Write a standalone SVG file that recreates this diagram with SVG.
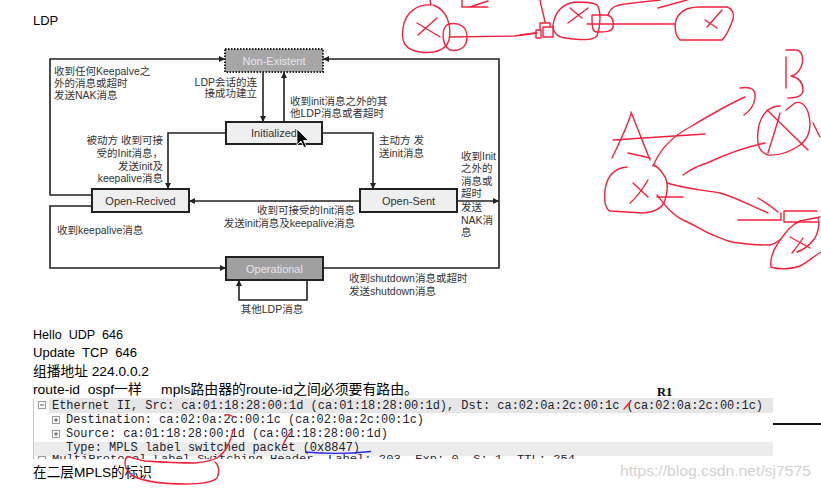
<svg xmlns="http://www.w3.org/2000/svg" width="821" height="490" viewBox="0 0 821 490">
<defs>
<style>
.lb{font-family:'Liberation Sans','Noto Sans CJK SC',sans-serif;font-size:10.5px;fill:#333}
.r{text-anchor:end}
.bx{fill:#efefef;stroke:#222;stroke-width:2}
.bt{font-family:'Liberation Sans','Noto Sans CJK SC',sans-serif;font-size:11px;fill:#333;text-anchor:middle}
.lt{fill:#e6e6e6}
.ln{fill:none;stroke:#222;stroke-width:1.6}
.doc{font-family:'Liberation Sans','Noto Sans CJK SC',sans-serif;font-size:13.5px;fill:#000;white-space:pre}
.mono{font-family:'Liberation Mono','DejaVu Sans Mono',monospace;font-size:12px;fill:#1e1e30;white-space:pre}
.ic{fill:#fff;stroke:#9a9a9a;stroke-width:1}
.red{fill:none;stroke:#f8203c;stroke-width:1.4;stroke-linecap:round;stroke-linejoin:round}
</style>
<marker id="ah" viewBox="0 0 6 6" refX="6" refY="3" markerWidth="6" markerHeight="6" markerUnits="userSpaceOnUse" orient="auto">
<path d="M0,0 L6,3 L0,6 Z" fill="#222"/>
</marker>
<clipPath id="cp"><rect x="0" y="440" width="821" height="19"/></clipPath>
</defs>
<rect width="821" height="490" fill="#fff"/>
<text x="33" y="25" class="doc" style="font-size:13px">LDP</text>

<g id="connectors">
<path class="ln" d="M92,195 H50 V59 H225" marker-end="url(#ah)"/>
<path class="ln" d="M263,72 V122" marker-end="url(#ah)"/>
<path class="ln" d="M284,122 V72" marker-end="url(#ah)"/>
<path class="ln" d="M226,133 H168 V189" marker-end="url(#ah)"/>
<path class="ln" d="M322,133 H373 V189" marker-end="url(#ah)"/>
<path class="ln" d="M360,201 H189" marker-end="url(#ah)"/>
<path class="ln" d="M457,201 H499" marker-end="url(#ah)"/>
<path class="ln" d="M323,268 H499 V59 H323" marker-end="url(#ah)"/>
<path class="ln" d="M92,206 H50 V268 H226" marker-end="url(#ah)"/>
<path class="ln" d="M307,280 V300 H239 V280" marker-end="url(#ah)"/>
</g>

<g id="edge-labels">
<text class="lb" x="54" y="75">收到任何Keepalve之</text>
<text class="lb" x="54" y="87">外的消息或超时</text>
<text class="lb" x="54" y="99">发送NAK消息</text>
<text class="lb r" x="257" y="86">LDP会话的连</text>
<text class="lb r" x="257" y="97">接成功建立</text>
<text class="lb" x="290" y="105">收到init消息之外的其</text>
<text class="lb" x="290" y="117">他LDP消息或者超时</text>
<text class="lb r" x="163" y="144">被动方 收到可接</text>
<text class="lb r" x="163" y="157">受的Init消息，</text>
<text class="lb r" x="163" y="170">发送init及</text>
<text class="lb r" x="163" y="182">keepalive消息</text>
<text class="lb" x="379" y="144">主动方 发</text>
<text class="lb" x="379" y="157">送init消息</text>
<text class="lb" x="461" y="160">收到Init</text>
<text class="lb" x="461" y="172">之外的</text>
<text class="lb" x="461" y="185">消息或</text>
<text class="lb" x="461" y="197">超时</text>
<text class="lb" x="461" y="211">发送</text>
<text class="lb" x="461" y="224">NAK消</text>
<text class="lb" x="461" y="236">息</text>
<text class="lb r" x="355" y="214">收到可接受的Init消息</text>
<text class="lb r" x="355" y="227">发送init消息及keepalive消息</text>
<text class="lb" x="57" y="234">收到keepalive消息</text>
<text class="lb" x="349" y="282">收到shutdown消息或超时</text>
<text class="lb" x="349" y="295">发送shutdown消息</text>
<text class="lb" x="272" y="313" text-anchor="middle">其他LDP消息</text>
</g>

<g id="node-nonexistent">
<rect x="225" y="49" width="98" height="23" fill="#a6a6a6" stroke="#222" stroke-width="2" stroke-dasharray="1.5 1.5"/>
<text class="bt lt" x="274" y="64.5">Non-Existent</text>
</g>
<g id="node-initialized">
<rect class="bx" x="226" y="122" width="96" height="22"/>
<text class="bt" x="274" y="137">Initialized</text>
<path d="M297,129 L297,145 L301,141 L304,147.5 L306.5,146.5 L303.5,140.5 L308.5,140.5 Z" fill="#000" stroke="#fff" stroke-width="0.8"/>
</g>
<g id="node-openrecived">
<rect class="bx" x="92" y="189" width="97" height="23"/>
<text class="bt" x="140.5" y="204.5">Open-Recived</text>
</g>
<g id="node-opensent">
<rect class="bx" x="360" y="189" width="97" height="23"/>
<text class="bt" x="408.5" y="204.5">Open-Sent</text>
</g>
<g id="node-operational">
<rect x="226" y="257" width="97" height="23" fill="#a0a0a0" stroke="#222" stroke-width="2"/>
<text class="bt lt" x="274.5" y="272.5">Operational</text>
</g>

<g id="notes">
<text class="doc" x="33" y="339" textLength="90" lengthAdjust="spacingAndGlyphs">Hello  UDP  646</text>
<text class="doc" x="33" y="357" textLength="104" lengthAdjust="spacingAndGlyphs">Update  TCP  646</text>
<text class="doc" x="33" y="376" textLength="116" lengthAdjust="spacingAndGlyphs">组播地址 224.0.0.2</text>
<text class="doc" x="33" y="394" textLength="385" lengthAdjust="spacingAndGlyphs">route-id  ospf一样     mpls路由器的route-id之间必须要有路由。</text>
<text x="657" y="396" style="font-family:'Liberation Serif',serif;font-size:12.5px;font-weight:bold;fill:#000">R1</text>
<line x1="773" y1="424" x2="821" y2="424" stroke="#111" stroke-width="2"/>
</g>

<g id="packet">
<line x1="33.5" y1="399" x2="33.5" y2="459" stroke="#c8c8c8" stroke-width="1"/>
<rect x="49" y="398" width="724" height="15" fill="#e6e6e6"/>
<rect x="34" y="442" width="739" height="14" fill="#ececec"/>
<rect class="ic" x="38.5" y="401.5" width="7" height="7"/><path d="M40,405 H44" stroke="#555"/>
<text class="mono" x="52" y="409" textLength="711" lengthAdjust="spacingAndGlyphs">Ethernet II, Src: ca:01:18:28:00:1d (ca:01:18:28:00:1d), Dst: ca:02:0a:2c:00:1c (ca:02:0a:2c:00:1c)</text>
<rect class="ic" x="52.5" y="416.5" width="7" height="7"/><path d="M54,420 H58 M56,418 V422" stroke="#555"/>
<text class="mono" x="66" y="423" textLength="358" lengthAdjust="spacingAndGlyphs">Destination: ca:02:0a:2c:00:1c (ca:02:0a:2c:00:1c)</text>
<rect class="ic" x="52.5" y="430.5" width="7" height="7"/><path d="M54,434 H58 M56,432 V436" stroke="#555"/>
<text class="mono" x="66" y="437" textLength="322" lengthAdjust="spacingAndGlyphs">Source: ca:01:18:28:00:1d (ca:01:18:28:00:1d)</text>
<text class="mono" x="66" y="451" textLength="294" lengthAdjust="spacingAndGlyphs">Type: MPLS label switched packet (0x8847)</text>
<g clip-path="url(#cp)">
<rect class="ic" x="38.5" y="456.5" width="7" height="7"/>
<text class="mono" x="52" y="461.5" style="font-size:11px" textLength="523" lengthAdjust="spacingAndGlyphs">MultiProtocol Label Switching Header, Label: 203, Exp: 0, S: 1, TTL: 254</text>
</g>
<path d="M305,452 Q337,455 371,451.5" fill="none" stroke="#2a2af0" stroke-width="1.4"/>
</g>

<text class="doc" x="33" y="477" textLength="119" lengthAdjust="spacingAndGlyphs">在二层MPLS的标识</text>
<text x="620" y="476" textLength="191" lengthAdjust="spacingAndGlyphs" style="font-family:'Liberation Sans',sans-serif;font-size:15px;fill:#d2d2d2">https://blog.csdn.net/sj7575</text>

<g id="scribbles" class="red">
<path d="M430,0 L431,5 C418,4 405,12 403,28 C401,42 405,50 420,52 C435,54 446,50 449,40 C452,25 447,10 433,5"/>
<path d="M417,23 L440,37 M437,18 L418,35"/>
<path d="M449,24 C441,26 441,45 450,50 C460,52 467,47 467,37 C467,27 460,22 449,24 Z"/>
<path d="M450,37 L515,36 L537,33"/>
<path d="M462,0 V7 H488 M470,7 L488,1"/>
<path d="M536,38 V30 H541 V38 Z M540,30 V23 H550 V27 M543,27 H553 V37 H543 Z"/>
<path d="M545,22 C543,12 541,6 540,0"/>
<path d="M520,35 L535,33"/>
<path d="M575,2 C562,4 555,12 553,25 C553,33 558,37 565,38 C580,40 592,41 597,36 C601,25 601,10 597,5 C593,2 585,2 575,2"/>
<path d="M568,23 L588,8 M570,8 L582,18"/>
<path d="M592,15 H605 C612,15 614,20 613,27 C612,32 605,32 597,32 C592,32 592,27 592,15 Z"/>
<path d="M587,24 H675"/>
<path d="M608,15 C610,8 615,5 625,4 C640,2 650,1 660,0"/>
<path d="M658,8 L687,0"/>
<path d="M680,40 C674,35 674,22 678,16 C684,8 692,7 700,7 L727,7 C733,9 735,15 732,22 C729,30 725,37 722,40 Z"/>
<path d="M705,20 L717,28 M722,10 L707,27"/>
<path d="M786,88 V57 M786,50 H797 C803,52 804,60 801,67 C799,72 795,75 791,76 C800,78 803,84 803,90 C803,96 798,98 788,98"/>
<path d="M780,106 C770,106 762,113 759,125 C756,140 757,152 768,155 C780,156 790,152 800,145 C810,138 812,125 808,112 C805,104 800,101 795,103 L786,110"/>
<path d="M767,110 L808,150 M780,113 C777,125 772,140 768,153 M813,123 L820,137"/>
<path d="M740,88 C752,86 756,90 755,98 C754,105 750,111 744,115"/>
<path d="M653,166 C660,150 670,138 690,127 C710,115 725,106 745,97"/>
<path d="M612,158 C618,145 626,130 631,114 M631,112 C636,125 642,140 650,160 M613,140 C640,138 670,136 705,134 M628,153 L650,158"/>
<path d="M627,167 C615,168 607,176 605,190 C604,202 605,209 610,211 L643,213 C655,212 663,208 665,200 C668,190 668,180 663,174 C660,169 656,166 653,165"/>
<path d="M633,183 L648,197 M648,180 C642,190 636,198 630,203 M657,197 L683,197"/>
<path d="M667,183 C690,190 705,190 720,193 C735,197 745,203 768,213 M758,198 C765,202 772,207 778,212"/>
<path d="M683,175 C690,170 700,165 707,163 C720,157 740,148 765,143"/>
<path d="M738,220 H781 V213 M784,222 V211 H817 M784,222 H817"/>
<path d="M800,221 C790,225 784,235 778,243 C772,252 770,260 771,267 C780,270 792,269 800,266 C808,262 814,256 821,252"/>
<path d="M800,221 L820,217 M818,218 C820,225 818,232 815,238 C810,245 803,250 797,252"/>
<path d="M790,237 L810,248 M803,238 C800,243 796,248 792,253"/>
<path d="M657,195 C665,205 672,215 683,220 C695,225 705,232 713,235 C725,240 732,243 740,243 C750,245 762,245 770,245 C775,244 778,241 781,239"/>
<path d="M225,415 C228,414 231,415 234,417"/>
<path d="M233,430 C231,440 226,452 217,458 C212,461 205,462 195,463 C180,463 160,462 145,461 C137,460 130,456 127,457 C123,462 125,470 133,476 C145,482 165,484 185,484 C200,484 212,483 217,478 C220,472 219,465 215,462"/>
<path d="M283,445 C285,440 287,436 292,431"/>
<path d="M624,409 L630,402"/>
</g>
</svg>
